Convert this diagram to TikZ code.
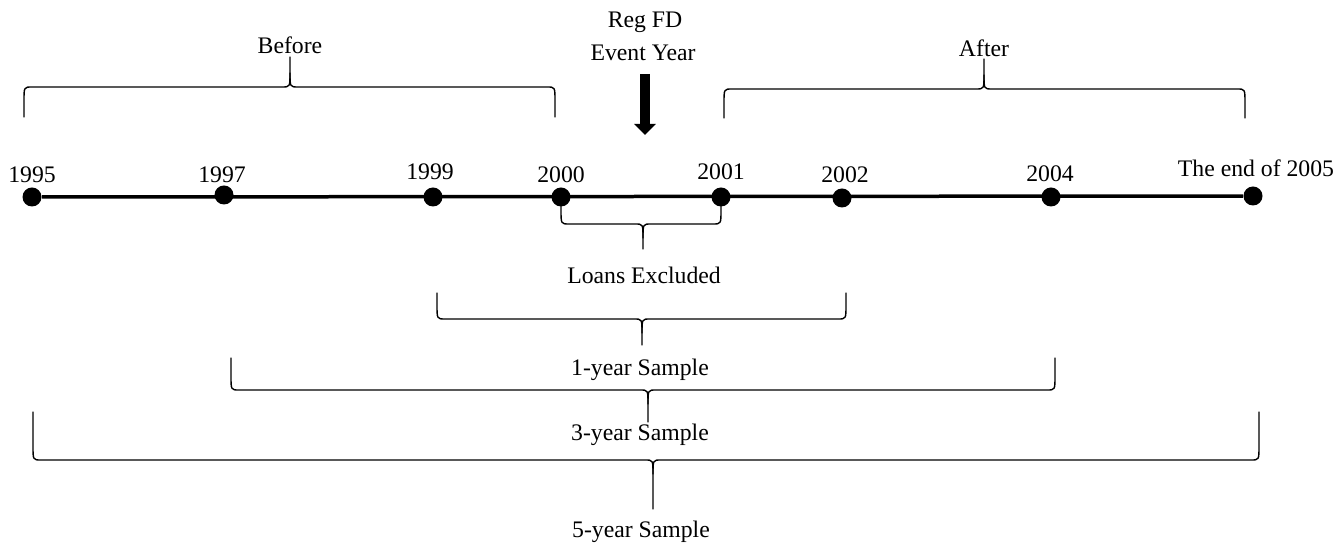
\documentclass[tikz,border=0pt]{standalone}
\usepackage{fontspec}
\setmainfont{Liberation Serif}
\usetikzlibrary{arrows.meta}
% brace in the style of a word processor: ends (x1,x2 at y0), bar at yl, tip at (xt,yt)
\def\wbrace[#1](#2,#3,#4)(#5,#6,#7){%
  \pgfmathsetmacro\bsg{sign(#7-#5)}
  \draw[#1] (#2,#4) -- (#2,#5-\bsg*14) .. controls (#2,#5) .. (#2+8,#5) -- (#6-8,#5) .. controls (#6,#5) .. (#6,#5+\bsg*14) -- (#6,#7);
  \draw[#1] (#3,#4) -- (#3,#5-\bsg*14) .. controls (#3,#5) .. (#3-8,#5) -- (#6+8,#5) .. controls (#6,#5) .. (#6,#5+\bsg*14);
}

\begin{document}
\begin{tikzpicture}[x=0.02cm,y=-0.02cm,
    dot/.style={circle,fill=black,inner sep=0pt,minimum size=0.38cm},
    txt/.style={inner sep=1pt,font=\fontsize{13.5}{16}\selectfont},
    brc/.style={line width=0.8pt,line cap=round,line join=round}]
  %%%%% START %%%%%
  \useasboundingbox (0,0) rectangle (1343,546);

  % time line
  \node[dot] (d1995) at (32,197) {};
  \node[dot] (d1997) at (224,195) {};
  \node[dot] (d1999) at (433,197) {};
  \node[dot] (d2000) at (561,197) {};
  \node[dot] (d2001) at (721,197) {};
  \node[dot] (d2002) at (842,198) {};
  \node[dot] (d2004) at (1051,197) {};
  \node[dot] (d2005) at (1253,196) {};
  \draw[line width=0.07cm] (d1995) -- (d2005);

  \node[txt] (t1995) at (32,175) {1995};
  \node[txt] (t1997) at (222,175) {1997};
  \node[txt] (t1999) at (430,172) {1999};
  \node[txt] (t2000) at (561,175) {2000};
  \node[txt] (t2001) at (721,172) {2001};
  \node[txt] (t2002) at (845,175) {2002};
  \node[txt] (t2004) at (1050,174) {2004};
  \node[txt] (t2005) at (1256,168) {The end of 2005};

  % event year
  \node[txt] (regfd) at (645,22) {Reg FD};
  \node[txt] (evyear) at (643,53) {Event Year};
  \coordinate (evtop) at (645,74);
  \coordinate (evbot) at (645,135);
  \draw[line width=0.2cm,-{Triangle[width=0.42cm,length=0.22cm]}] (evtop) -- (evbot);

  % before / after
  \node[txt] (before) at (290,45) {Before};
  \wbrace[brc](24,555,117)(87,290,57)
  \node[txt] (after) at (984,48) {After};
  \wbrace[brc](724,1245,118)(89,984,59)

  % samples
  \wbrace[brc](561,721,205)(224,643,249)
  \node[txt] (loans) at (644,275) {Loans Excluded};
  \wbrace[brc](437,846,293)(319,642,345)
  \node[txt] (one) at (640,370) {1-year Sample};
  \wbrace[brc](231,1055,358)(390,648,422)
  \node[txt] (three) at (640,435) {3-year Sample};
  \wbrace[brc](33,1259,412)(460,653,509)
  \node[txt] (five) at (641,532) {5-year Sample};
  %%%%% END %%%%%
\end{tikzpicture}
\end{document}
